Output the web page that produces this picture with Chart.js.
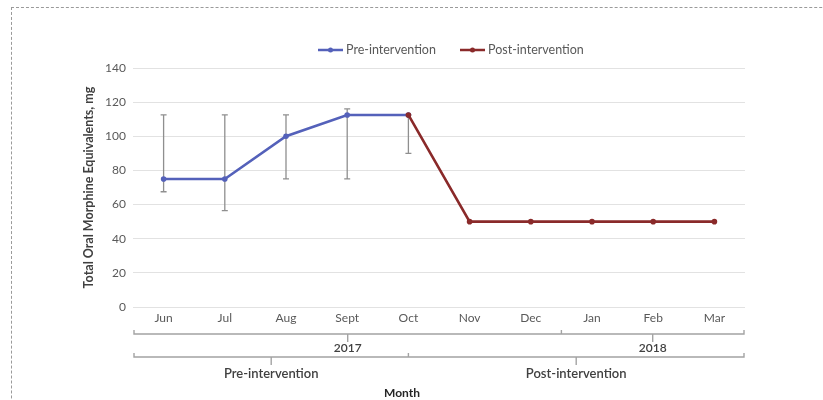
<!DOCTYPE html>
<html>
<head>
<meta charset="utf-8">
<script src="https://cdn.jsdelivr.net/npm/chart.js@4.4.1/dist/chart.umd.min.js"></script>
<style>
  html, body { margin: 0; padding: 0; background: #ffffff; overflow: hidden; }
  #frame { position: absolute; left: 11px; top: 7px; width: 900px; height: 500px;
           border-left: 1px dashed #9a9a9a; border-top: 1px dashed #9a9a9a; }
  #chart { position: absolute; left: 0; top: 0; }
</style>
</head>
<body>
<div id="frame"></div>
<canvas id="chart" width="823" height="400"></canvas>
<script>
// Monthly total oral morphine equivalents (mg)
const months = ['Jun', 'Jul', 'Aug', 'Sept', 'Oct', 'Nov', 'Dec', 'Jan', 'Feb', 'Mar'];
const preValues  = [75, 75, 100, 112.5, 112.5, null, null, null, null, null];
const postValues = [null, null, null, null, 112.5, 50, 50, 50, 50, 50];

// Error bar range for the pre-intervention months
const errLow  = [67.5, 56.5, 75, 75, 90];
const errHigh = [112.5, 112.5, 112.5, 116, 112.5];

// Year grouping under the month labels
const yearLabels = ['2017', '2018'];
const yearFirstMonth = ['Jun', 'Jan'];

// Study phase grouping (the phases meet at October)
const phaseLabels = ['Pre-intervention', 'Post-intervention'];
const phaseSplitMonth = 'Oct';

const yTicks = { min: 0, max: 140, step: 20 };

const PRE_COLOR = '#5461ba';
const POST_COLOR = '#8a2a2a';
const FONT = 'Lato, "Open Sans", sans-serif';

function drawBracket(ctx, x0, x1, y, hooks, drops) {
  ctx.beginPath();
  ctx.moveTo(x0, y - 4);
  ctx.lineTo(x0, y);
  ctx.lineTo(x1, y);
  ctx.lineTo(x1, y - 4);
  hooks.forEach(h => { ctx.moveTo(h, y); ctx.lineTo(h, y - 4); });
  drops.forEach(d => { ctx.moveTo(d, y); ctx.lineTo(d, y + 8); });
  ctx.stroke();
}

const extras = {
  id: 'extras',
  beforeDatasetsDraw(chart) {
    const ctx = chart.ctx, xs = chart.scales.x, ys = chart.scales.y;
    ctx.save();
    ctx.strokeStyle = '#8f8f8f';
    ctx.lineWidth = 1.3;
    errLow.forEach((lo, i) => {
      const px = xs.getPixelForValue(i);
      const yl = ys.getPixelForValue(lo), yh = ys.getPixelForValue(errHigh[i]);
      ctx.beginPath();
      ctx.moveTo(px, yl); ctx.lineTo(px, yh);
      ctx.moveTo(px - 3, yl); ctx.lineTo(px + 3, yl);
      ctx.moveTo(px - 3, yh); ctx.lineTo(px + 3, yh);
      ctx.stroke();
    });
    ctx.restore();
  },
  afterDraw(chart) {
    const ctx = chart.ctx, xs = chart.scales.x, area = chart.chartArea;
    const left = area.left + 1, right = area.right - 1;
    ctx.save();
    ctx.strokeStyle = '#a3a3a3';
    ctx.lineWidth = 1.4;
    ctx.fillStyle = '#404040';
    ctx.textAlign = 'center';
    ctx.textBaseline = 'middle';

    // year row
    const yearY = 334;
    const starts = yearFirstMonth.map(m => months.indexOf(m));
    const bounds = starts.map((s, k) => k === 0 ? left : (xs.getPixelForValue(s - 1) + xs.getPixelForValue(s)) / 2);
    bounds.push(right);
    const yearCenters = yearLabels.map((_, k) => (bounds[k] + bounds[k + 1]) / 2);
    drawBracket(ctx, left, right, yearY, bounds.slice(1, -1), yearCenters);
    ctx.font = '600 12px ' + FONT;
    yearLabels.forEach((t, k) => ctx.fillText(t, yearCenters[k], 348));

    // phase row
    const phaseY = 357;
    const split = xs.getPixelForValue(months.indexOf(phaseSplitMonth));
    const phaseCenters = [(left + split) / 2, (split + right) / 2];
    drawBracket(ctx, left, right, phaseY, [split], phaseCenters);
    ctx.font = '600 13px ' + FONT;
    phaseLabels.forEach((t, k) => ctx.fillText(t, phaseCenters[k], 374));

    // axis title
    ctx.fillStyle = '#262626';
    ctx.font = 'bold 12px ' + FONT;
    ctx.fillText('Month', 402, 393);

    // legend
    const items = [
      { label: 'Pre-intervention', color: PRE_COLOR, x: 318 },
      { label: 'Post-intervention', color: POST_COLOR, x: 460 }
    ];
    ctx.textAlign = 'left';
    ctx.font = '12.5px ' + FONT;
    items.forEach(it => {
      ctx.strokeStyle = it.color;
      ctx.fillStyle = it.color;
      ctx.lineWidth = 2.5;
      ctx.beginPath();
      ctx.moveTo(it.x, 50); ctx.lineTo(it.x + 25, 50);
      ctx.stroke();
      ctx.beginPath();
      ctx.arc(it.x + 12.5, 50, 2.5, 0, Math.PI * 2);
      ctx.fill();
      ctx.fillStyle = '#595959';
      ctx.fillText(it.label, it.x + 28, 50);
    });
    ctx.restore();
  }
};

new Chart(document.getElementById('chart'), {
  type: 'line',
  data: {
    labels: months,
    datasets: [
      { label: 'Pre-intervention', data: preValues, borderColor: PRE_COLOR, backgroundColor: PRE_COLOR,
        borderWidth: 2.6, pointRadius: 2.8, pointHoverRadius: 2.8, pointBorderWidth: 0, tension: 0, order: 1 },
      { label: 'Post-intervention', data: postValues, borderColor: POST_COLOR, backgroundColor: POST_COLOR,
        borderWidth: 2.6, pointRadius: 2.8, pointHoverRadius: 2.8, pointBorderWidth: 0, tension: 0, order: 0 }
    ]
  },
  options: {
    responsive: false,
    animation: false,
    layout: { padding: { left: 78, top: 68, right: 78, bottom: 0 } },
    plugins: { legend: { display: false }, tooltip: { enabled: false } },
    scales: {
      x: {
        offset: true,
        grid: { display: false, drawTicks: false },
        border: { display: false },
        ticks: { color: '#595959', font: { family: FONT, size: 12 }, padding: 4, maxRotation: 0, autoSkip: false },
        afterFit(s) { s.height = 93; }
      },
      y: {
        min: yTicks.min, max: yTicks.max,
        ticks: { stepSize: yTicks.step, color: '#595959', font: { family: FONT, size: 12 }, padding: 7 },
        grid: { color: '#e2e2e2', lineWidth: 1, drawTicks: false },
        border: { display: false },
        title: { display: true, text: 'Total Oral Morphine Equivalents, mg', color: '#404040',
                 font: { family: FONT, size: 12.5, weight: 'bold' }, padding: { top: 3, bottom: 0 } },
        afterFit(s) { s.width = 55; }
      }
    }
  },
  plugins: [extras]
});
</script>
</body>
</html>
